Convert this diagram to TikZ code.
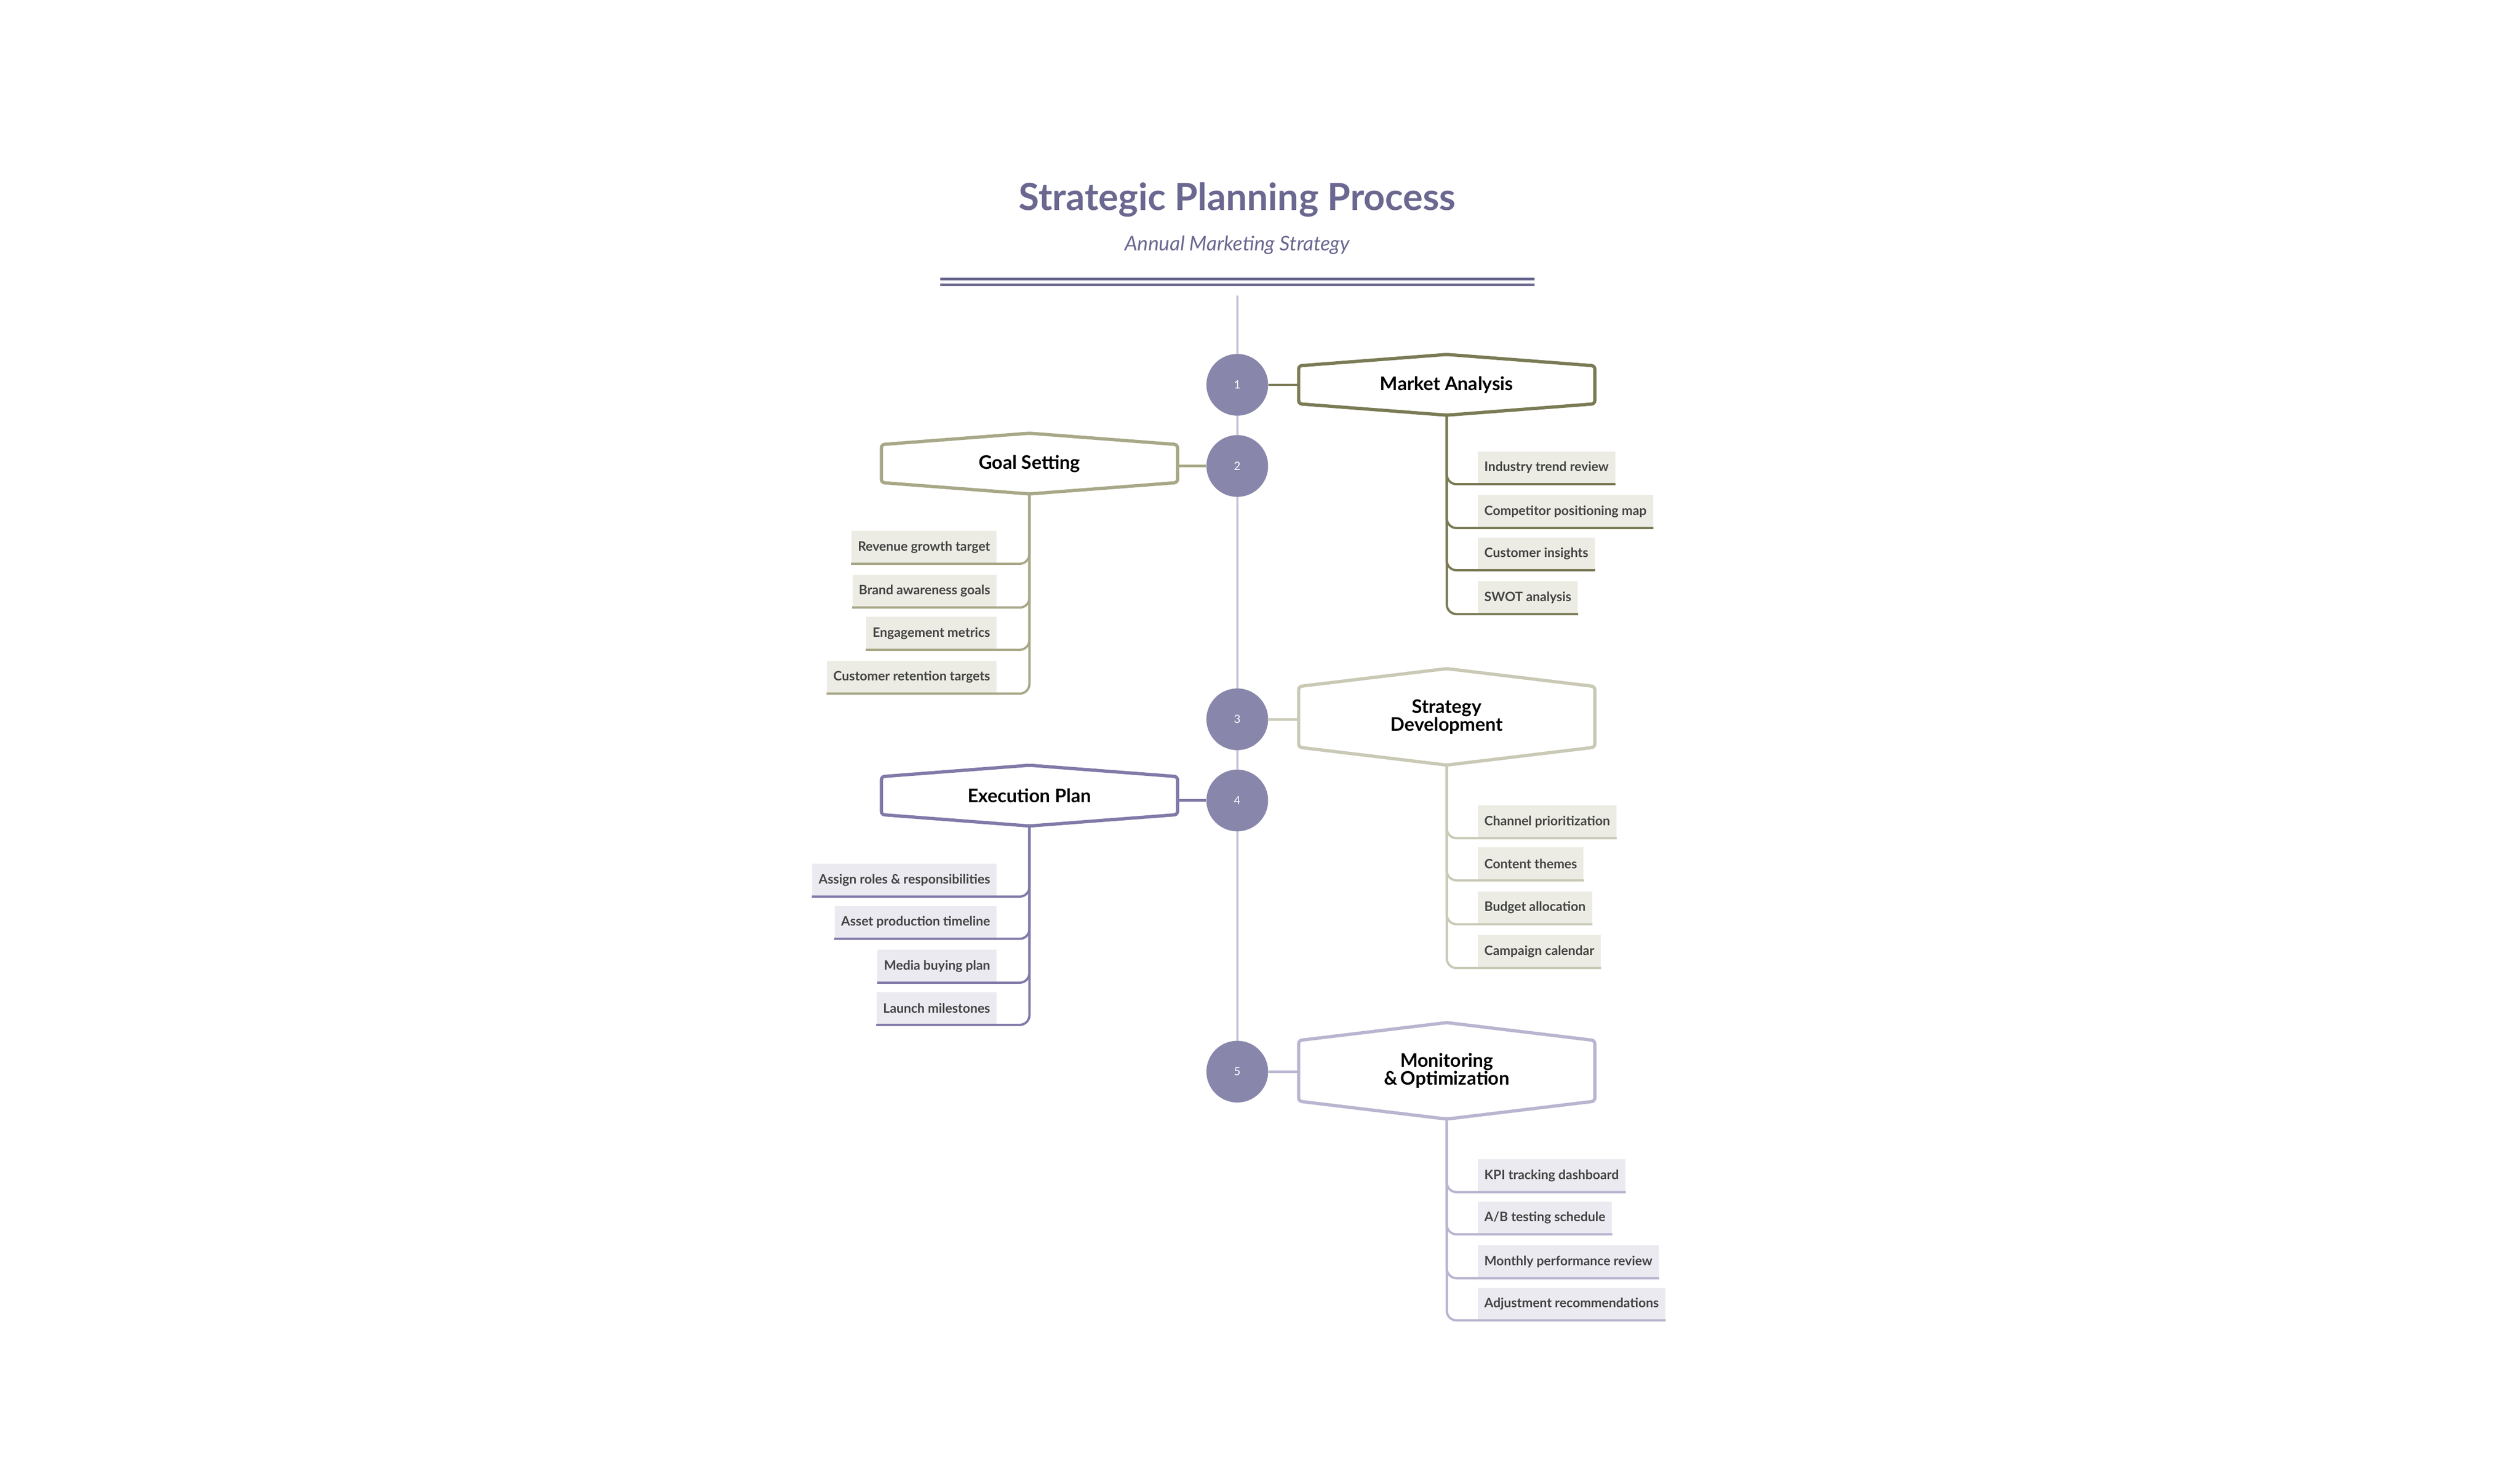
\documentclass[tikz,border=0pt]{standalone}
\usepackage{fontspec}
\setmainfont{Lato}
\usetikzlibrary{calc}
\definecolor{ttl}{HTML}{6A6890}
\definecolor{spine}{HTML}{C4C1D6}
\definecolor{circ}{HTML}{8886AA}
\definecolor{olA}{HTML}{7A7A55}
\definecolor{olB}{HTML}{A8A888}
\definecolor{olC}{HTML}{C9C9B6}
\definecolor{puA}{HTML}{7F7AA8}
\definecolor{puB}{HTML}{B8B5D0}
\definecolor{fillO}{HTML}{ECECE4}
\definecolor{fillP}{HTML}{EBEAF1}
\definecolor{ctext}{HTML}{444444}
\tikzset{
  num/.style={circle,fill=circ,minimum size=38pt,inner sep=0pt,text=white,font=\fontsize{7}{8}\selectfont},
  mainbox/.style={minimum width=182pt,inner sep=0pt,align=center,font=\fontsize{11.5}{13}\selectfont\bfseries},
  child/.style={fill=#1,inner xsep=4pt,minimum height=20pt,inner ysep=0pt,text=ctext,font=\fontsize{8}{9}\selectfont\bfseries},
  hexline/.style={line width=2pt,draw=#1,rounded corners=2pt},
  link/.style={line width=1.6pt,draw=#1},
  branch/.style={line width=1.4pt,draw=#1,rounded corners=6pt},
}
\newcommand{\hexdraw}[3]{\draw[hexline=#2] ($(#1.north west)+(0,#3)$) -- (#1.north) -- ($(#1.north east)+(0,#3)$) -- ($(#1.south east)+(0,-#3)$) -- (#1.south) -- ($(#1.south west)+(0,-#3)$) -- cycle;}
\begin{document}
\begin{tikzpicture}[x=1pt,y=-1pt]
\useasboundingbox (0,0) rectangle (1552,899);
\node[text=ttl,font=\fontsize{23}{26}\selectfont\bfseries] (title) at (762,123) {Strategic Planning Process};
\node[text=ttl,font=\fontsize{12.5}{14}\selectfont\itshape] (sub) at (762,151) {Annual Marketing Strategy};
\coordinate (l1a) at (579,172); \coordinate (l1b) at (945,172);
\coordinate (l2a) at (579,175.5); \coordinate (l2b) at (945,175.5);
\draw[ttl,line width=1.6pt] (l1a) -- (l1b);
\draw[ttl,line width=1.6pt] (l2a) -- (l2b);
\coordinate (stop) at (762,182); \coordinate (sbot) at (762,660);
\draw[spine,line width=1.4pt] (stop) -- (sbot);
% boxes
\node[mainbox,minimum height=37pt] (b1) at (891,237) {Market Analysis};
\node[mainbox,minimum height=37pt] (b2) at (634,285.5) {Goal Setting};
\node[mainbox,minimum height=59pt] (b3) at (891,441.5) {Strategy\\[-2pt]Development};
\node[mainbox,minimum height=37pt] (b4) at (634,490) {Execution Plan};
\node[mainbox,minimum height=59pt] (b5) at (891,659.5) {Monitoring\\[-2pt]\&\,Optimization};
% circles
\node[num] (c1) at (762,237) {1};
\node[num] (c2) at (762,287) {2};
\node[num] (c3) at (762,443) {3};
\node[num] (c4) at (762,493) {4};
\node[num] (c5) at (762,660) {5};
\draw[link=olA] (c1) -- (c1 -| b1.west);
\draw[link=olB] (c2) -- (c2 -| b2.east);
\draw[link=olC] (c3) -- (c3 -| b3.west);
\draw[link=puA] (c4) -- (c4 -| b4.east);
\draw[link=puB] (c5) -- (c5 -| b5.west);
\hexdraw{b1}{olA}{7}
\hexdraw{b2}{olB}{7}
\hexdraw{b3}{olC}{11}
\hexdraw{b4}{puA}{7}
\hexdraw{b5}{puB}{11}
\foreach \t/\y [count=\i] in {Industry trend review/288,Competitor positioning map/315,Customer insights/341,SWOT analysis/368}{
  \node[child=fillO,anchor=west] (a\i) at (910,\y) {\t};
  \draw[branch=olA] (b1.south) |- (a\i.south east);
}
\foreach \t/\y [count=\i] in {Revenue growth target/337,Brand awareness goals/364,Engagement metrics/390,Customer retention targets/417}{
  \node[child=fillO,anchor=east] (g\i) at (614,\y) {\t};
  \draw[branch=olB] (b2.south) |- (g\i.south west);
}
\foreach \t/\y [count=\i] in {Channel prioritization/506,Content themes/532,Budget allocation/559,Campaign calendar/586}{
  \node[child=fillO,anchor=west] (s\i) at (910,\y) {\t};
  \draw[branch=olC] (b3.south) |- (s\i.south east);
}
\foreach \t/\y [count=\i] in {Assign roles \& responsibilities/542,Asset production timeline/568,Media buying plan/595,Launch milestones/621}{
  \node[child=fillP,anchor=east] (e\i) at (614,\y) {\t};
  \draw[branch=puA] (b4.south) |- (e\i.south west);
}
\foreach \t/\y [count=\i] in {KPI tracking dashboard/724,{A/B testing schedule}/750,Monthly performance review/777,Adjustment recommendations/803}{
  \node[child=fillP,anchor=west] (m\i) at (910,\y) {\t};
  \draw[branch=puB] (b5.south) |- (m\i.south east);
}
\end{tikzpicture}
\end{document}
